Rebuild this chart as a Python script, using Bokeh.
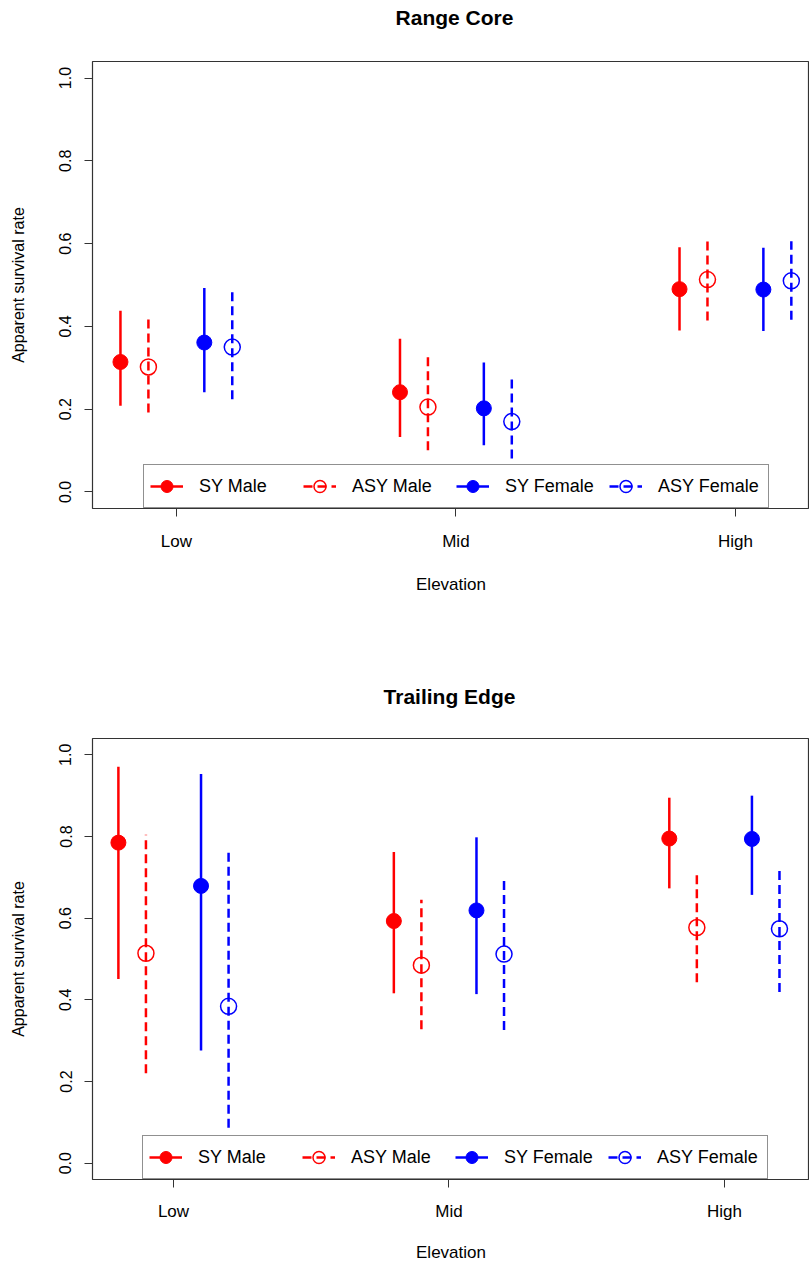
from bokeh.plotting import figure
from bokeh.models import (ColumnDataSource, Legend, LegendItem, FixedTicker,
                          Range1d, Div)
from bokeh.layouts import column
from bokeh.transform import dodge
from bokeh.embed import file_html
from bokeh.resources import INLINE

# ---------------- data ----------------
elevation_pos = [1, 2, 3]
elevation_labels = ["Low", "Mid", "High"]
groups = ["SY Male", "ASY Male", "SY Female", "ASY Female"]
panel_titles = ["Range Core", "Trailing Edge"]

# Range Core
core_sy_male_est = [0.314, 0.241, 0.490]
core_sy_male_lo = [0.208, 0.133, 0.390]
core_sy_male_hi = [0.438, 0.370, 0.591]
core_asy_male_est = [0.302, 0.205, 0.513]
core_asy_male_lo = [0.192, 0.101, 0.414]
core_asy_male_hi = [0.426, 0.336, 0.608]
core_sy_female_est = [0.361, 0.202, 0.489]
core_sy_female_lo = [0.241, 0.113, 0.389]
core_sy_female_hi = [0.493, 0.313, 0.590]
core_asy_female_est = [0.350, 0.170, 0.510]
core_asy_female_lo = [0.224, 0.081, 0.416]
core_asy_female_hi = [0.486, 0.283, 0.606]

# Trailing Edge
edge_sy_male_est = [0.785, 0.593, 0.795]
edge_sy_male_lo = [0.451, 0.416, 0.673]
edge_sy_male_hi = [0.971, 0.762, 0.895]
edge_asy_male_est = [0.514, 0.485, 0.577]
edge_asy_male_lo = [0.220, 0.328, 0.443]
edge_asy_male_hi = [0.804, 0.645, 0.707]
edge_sy_female_est = [0.679, 0.619, 0.794]
edge_sy_female_lo = [0.276, 0.414, 0.657]
edge_sy_female_hi = [0.953, 0.798, 0.900]
edge_asy_female_est = [0.384, 0.512, 0.574]
edge_asy_female_lo = [0.087, 0.326, 0.419]
edge_asy_female_hi = [0.769, 0.694, 0.721]

core = [
    (core_sy_male_est, core_sy_male_lo, core_sy_male_hi),
    (core_asy_male_est, core_asy_male_lo, core_asy_male_hi),
    (core_sy_female_est, core_sy_female_lo, core_sy_female_hi),
    (core_asy_female_est, core_asy_female_lo, core_asy_female_hi),
]
edge = [
    (edge_sy_male_est, edge_sy_male_lo, edge_sy_male_hi),
    (edge_asy_male_est, edge_asy_male_lo, edge_asy_male_hi),
    (edge_sy_female_est, edge_sy_female_lo, edge_sy_female_hi),
    (edge_asy_female_est, edge_asy_female_lo, edge_asy_female_hi),
]

# ---------------- styles ----------------
FONT = "Liberation Sans"
offsets = [-0.2, -0.1, 0.1, 0.2]
colors = ["#FF0000", "#FF0000", "#0000FF", "#0000FF"]
filled = [True, False, True, False]
dashes = ["solid", "9 5", "solid", "9 5"]


def make_title(text, height, top, left):
    html = ('<div style="margin-top:%dpx; margin-left:%dpx; width:717px; '
            'text-align:center; font-family:\'Liberation Sans\'; '
            'font-size:21px; font-weight:bold; line-height:24px; '
            'color:black;">%s</div>' % (top, left, text))
    return Div(text=html, width=809, height=height, margin=0)


def make_panel(data, height, border_top, border_bottom,
               x_start, x_end, tick_standoff, label_standoff, legend_x):
    p = figure(width=809, height=height, output_backend="svg",
               toolbar_location=None, tools="",
               x_range=Range1d(x_start, x_end), y_range=Range1d(-0.04, 1.04),
               min_border_left=92, min_border_right=0,
               min_border_top=border_top, min_border_bottom=border_bottom)

    p.xgrid.visible = False
    p.ygrid.visible = False
    p.outline_line_color = "#333333"
    p.outline_line_width = 1.2
    p.outline_line_alpha = 1.0

    xa = p.xaxis[0]
    xa.ticker = FixedTicker(ticks=elevation_pos)
    xa.major_label_overrides = {k: v for k, v in zip(elevation_pos, elevation_labels)}
    xa.axis_label = "Elevation"
    ya = p.yaxis[0]
    ya.ticker = FixedTicker(ticks=[0.0, 0.2, 0.4, 0.6, 0.8, 1.0])
    ya.major_label_overrides = {0.0: "0.0", 0.2: "0.2", 0.4: "0.4",
                                0.6: "0.6", 0.8: "0.8", 1.0: "1.0"}
    ya.axis_label = "Apparent survival rate"
    ya.major_label_orientation = "vertical"
    for ax in (xa, ya):
        ax.axis_line_color = None
        ax.major_tick_out = 8
        ax.major_tick_in = 0
        ax.minor_tick_line_color = None
        ax.major_tick_line_color = "#333333"
        ax.major_label_text_font = FONT
        ax.major_label_text_color = "black"
        ax.axis_label_text_font = FONT
        ax.axis_label_text_font_style = "normal"
        ax.axis_label_text_color = "black"
    xa.major_label_text_font_size = "17px"
    xa.axis_label_text_font_size = "17px"
    xa.major_label_standoff = tick_standoff
    xa.axis_label_standoff = label_standoff
    ya.major_label_text_font_size = "16px"
    ya.axis_label_text_font_size = "16px"
    ya.major_label_standoff = 13
    ya.axis_label_standoff = 30

    items = []
    for i, g in enumerate(groups):
        est, lo, hi = data[i]
        src = ColumnDataSource(dict(x=elevation_pos, est=est, lo=lo, hi=hi))
        xs = dodge("x", offsets[i])
        seg = p.segment(x0=xs, y0="lo", x1=xs, y1="hi", source=src,
                        line_color=colors[i], line_width=2.5,
                        line_dash=dashes[i])
        if filled[i]:
            sc = p.scatter(x=xs, y="est", source=src, marker="circle", size=15,
                           fill_color=colors[i], line_color=colors[i],
                           line_width=1)
        else:
            sc = p.scatter(x=xs, y="est", source=src, marker="circle", size=16,
                           fill_color=None, line_color=colors[i],
                           line_width=1.5)
        items.append(LegendItem(label=g, renderers=[seg, sc]))

    leg = Legend(items=items, orientation="horizontal", location=(legend_x, 0),
                 margin=0, padding=6, spacing=0, glyph_width=33,
                 glyph_height=30, label_standoff=16, label_width=104,
                 label_text_font=FONT, label_text_font_size="18px",
                 label_text_color="black", border_line_color="#222222",
                 border_line_width=1, background_fill_color="white",
                 background_fill_alpha=1.0)
    p.add_layout(leg, "center")
    return p


t1 = make_title(panel_titles[0], 36, 6, 96)
p1 = make_panel(core, 572, 25, 100, 0.7, 3.265, 15, 21, 51)
t2 = make_title(panel_titles[1], 110, 77, 91)
p2 = make_panel(edge, 546, 20, 85, 0.706, 3.309, 14, 19, 50)

layout = column(t1, p1, t2, p2, spacing=0)
open("out.html", "w").write(file_html(layout, INLINE))
